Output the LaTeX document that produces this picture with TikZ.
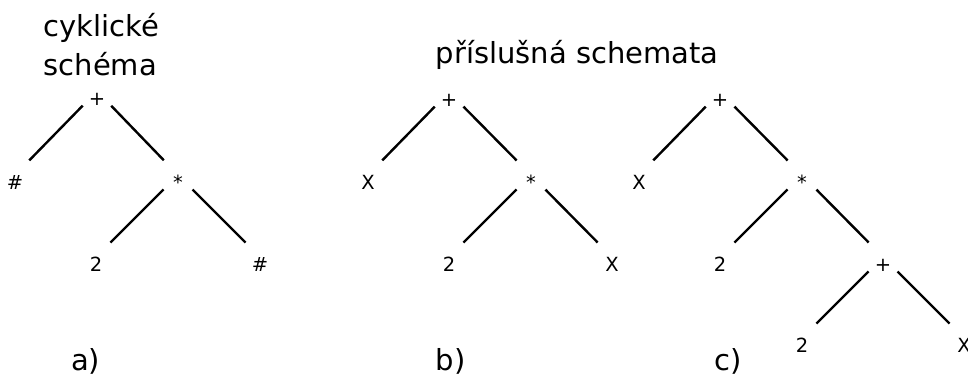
\documentclass[tikz,border=0pt]{standalone}
\usepackage{fontspec}
\setmainfont{DejaVu Sans}
\begin{document}
\begin{tikzpicture}[x=1pt,y=-1pt,
  lbl/.style={font=\fontsize{19.5}{19.5}\selectfont, inner sep=0pt, text height=28.5pt, text depth=0pt},
  edge/.style={line width=2.4pt, shorten <=20.5pt, shorten >=20.5pt},
  big/.style={font=\fontsize{29}{29}\selectfont, inner sep=0pt, anchor=base west}]
\useasboundingbox (0,0) rectangle (968,376);
\fill[white] (0,0) rectangle (968,376);
% titles
\node[big] (t1) at (43.5,36) {cyklické};
\node[big] (t2) at (43.5,75) {schéma};
\node[big] (t3) at (435.5,63) {příslušná schemata};
\node[big] (la) at (71,370.5) {a)};
\node[big] (lb) at (435.5,370.5) {b)};
\node[big] (lc) at (714.5,370.5) {c)};
% tree a
\node[lbl] (ra) at (97,91) {+};
\node[lbl] (a1) at (15,175) {\#};
\node[lbl] (a2) at (178,175) {*};
\node[lbl] (a3) at (96,257) {2};
\node[lbl] (a4) at (260,257) {\#};
\draw[edge] (ra.center) -- (a1.center);
\draw[edge] (ra.center) -- (a2.center);
\draw[edge] (a2.center) -- (a3.center);
\draw[edge] (a2.center) -- (a4.center);
% tree b
\node[lbl] (rb) at (449,92) {+};
\node[lbl] (b1) at (368,175) {X};
\node[lbl] (b2) at (531,175) {*};
\node[lbl] (b3) at (449,257) {2};
\node[lbl] (b4) at (612,257) {X};
\draw[edge] (rb.center) -- (b1.center);
\draw[edge] (rb.center) -- (b2.center);
\draw[edge] (b2.center) -- (b3.center);
\draw[edge] (b2.center) -- (b4.center);
% tree c
\node[lbl] (rc) at (720,92) {+};
\node[lbl] (c1) at (639,175) {X};
\node[lbl] (c2) at (802,175) {*};
\node[lbl] (c3) at (720,257) {2};
\node[lbl] (c4) at (883,257) {+};
\node[lbl] (c5) at (802,338) {2};
\node[lbl] (c6) at (964,338) {X};
\draw[edge] (rc.center) -- (c1.center);
\draw[edge] (rc.center) -- (c2.center);
\draw[edge] (c2.center) -- (c3.center);
\draw[edge] (c2.center) -- (c4.center);
\draw[edge] (c4.center) -- (c5.center);
\draw[edge] (c4.center) -- (c6.center);
\end{tikzpicture}
\end{document}
